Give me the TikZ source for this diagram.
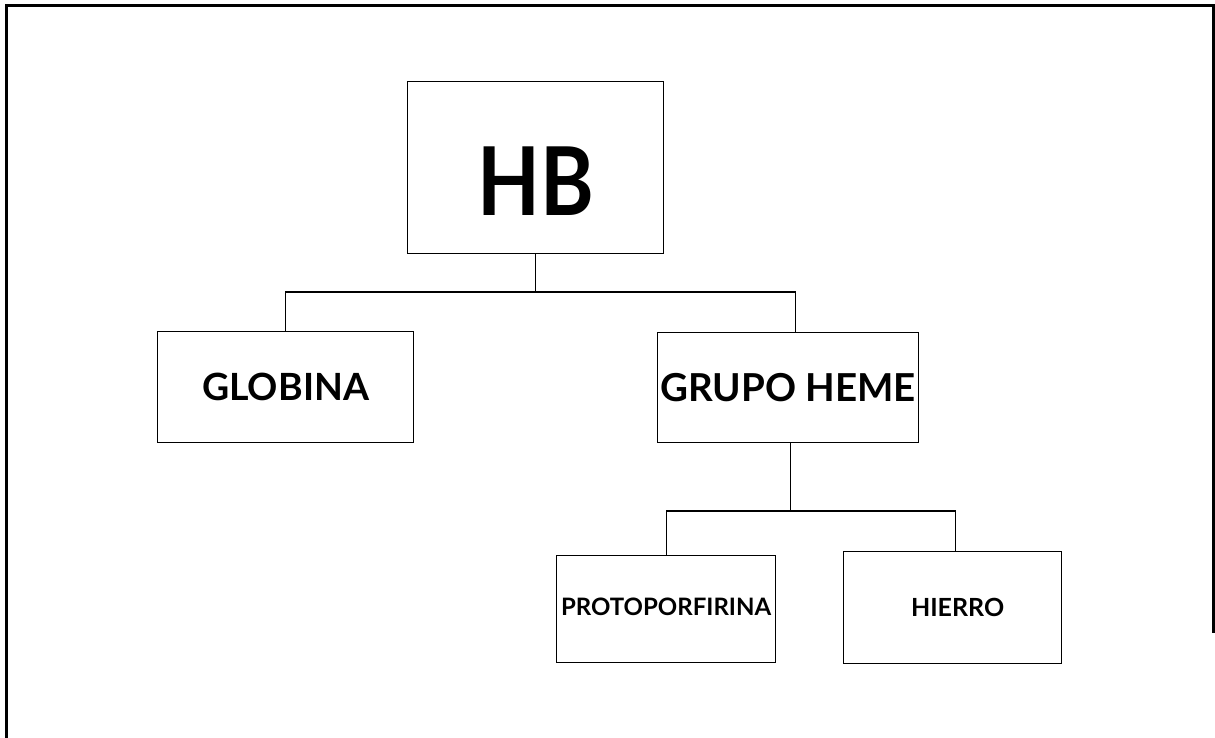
\documentclass[tikz,border=0pt]{standalone}
\usepackage{fontspec}
\setmainfont{Lato}
\begin{document}
\begin{tikzpicture}[x=1pt,y=-1pt,
  frameline/.style={line width=3pt,black},
  boxnode/.style={draw=black,line width=1.2pt,inner sep=0pt,anchor=north west,font=\bfseries},
  link/.style={draw=black,line width=1.2pt}]
\useasboundingbox (0,0) rectangle (1215,738);
% outer frame
\draw[frameline] (6,738) -- (6,6) -- (1213,6) -- (1213,633);
% boxes
\node[boxnode,minimum width=256pt,minimum height=172pt] (hb) at (407,81)
  {\fontsize{95}{100}\selectfont\raisebox{-14pt}[\height][\depth]{\scalebox{0.86}[1]{HB}}};
\node[boxnode,minimum width=256pt,minimum height=111pt] (globina) at (157,331)
  {\fontsize{37.5}{40}\selectfont GLOBINA};
\node[boxnode,minimum width=261pt,minimum height=110pt] (heme) at (657,332)
  {\fontsize{38.5}{40}\selectfont GRUPO HEME};
\node[boxnode,minimum width=219pt,minimum height=107pt] (proto) at (556,555)
  {\fontsize{24}{26}\selectfont\raisebox{2pt}[\height][\depth]{PROTOPORFIRINA}};
\node[boxnode,minimum width=218pt,minimum height=112pt] (hierro) at (843,551)
  {\fontsize{25}{26}\selectfont\hspace*{10pt}HIERRO};
% junction points
\coordinate (j1) at (hb.south |- 0,292);
\coordinate (j2) at ([xshift=2.5pt]heme.south |- 0,511);
% connectors
\draw[link] (hb.south) -- (j1);
\draw[link] (j1) -| (globina.north);
\draw[link] (j1) -| ([xshift=7pt]heme.north);
\draw[link] ([xshift=2.5pt]heme.south) -- (j2);
\draw[link] (j2) -| (proto.north);
\draw[link] (j2) -| ([xshift=3pt]hierro.north);
\end{tikzpicture}
\end{document}
